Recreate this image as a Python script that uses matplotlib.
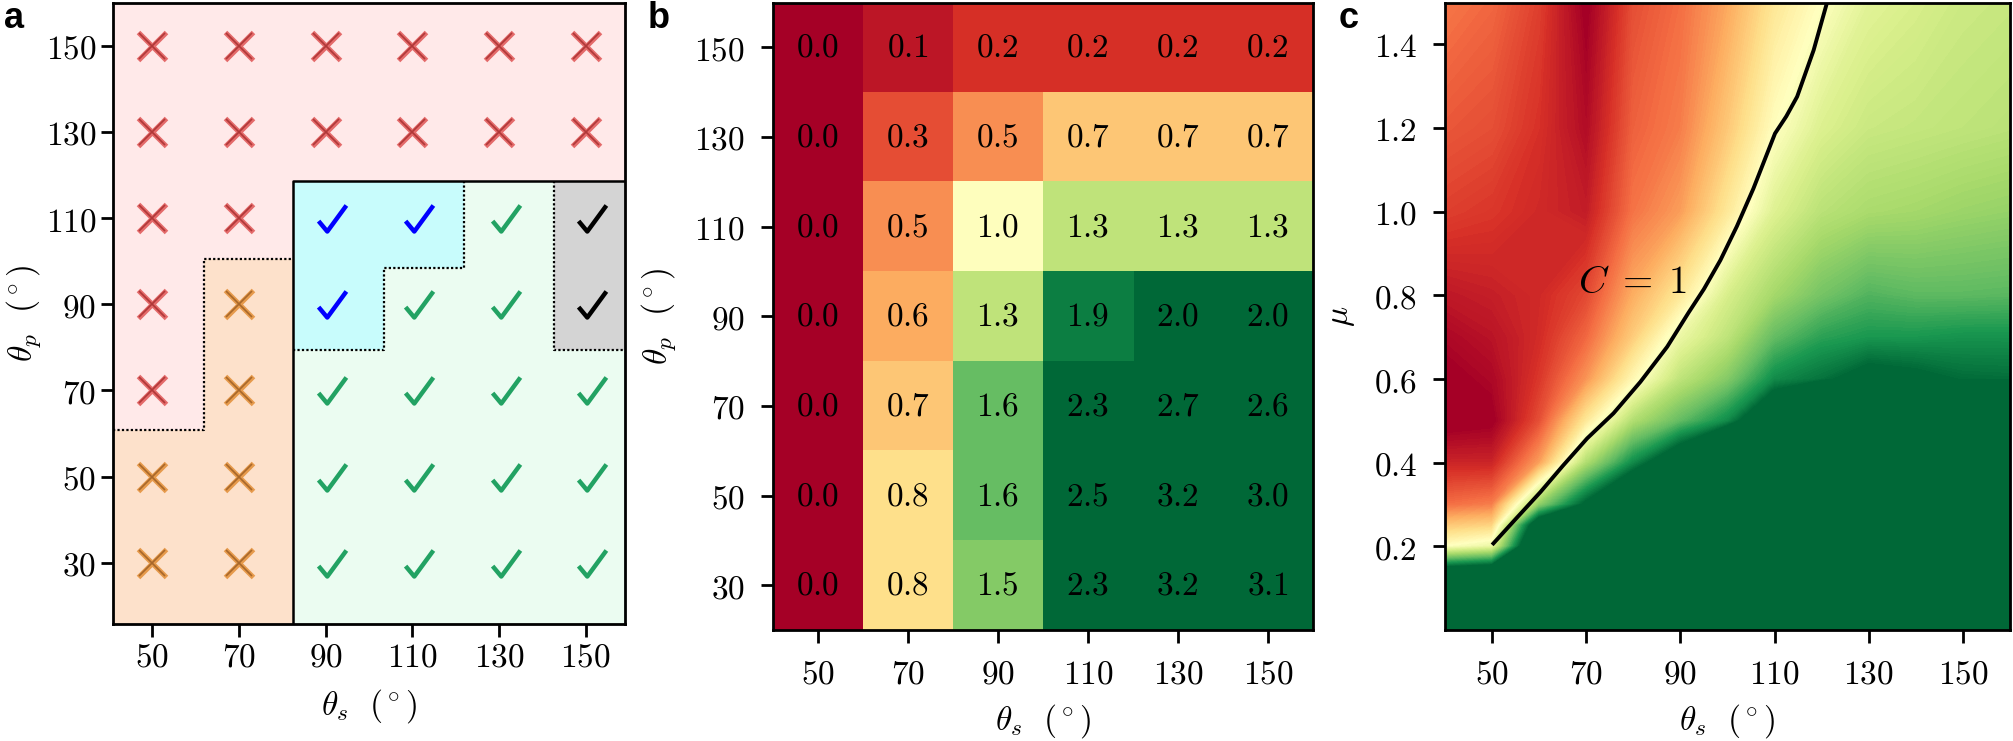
import matplotlib
matplotlib.use("Agg")
import matplotlib.pyplot as plt
import numpy as np
from matplotlib.path import Path
from matplotlib.markers import MarkerStyle

plt.rcParams["mathtext.fontset"] = "cm"
plt.rcParams["font.size"] = 24

# shared grid
theta_s = [50, 70, 90, 110, 130, 150]
theta_p = [150, 130, 110, 90, 70, 50, 30]

# panel a: outcome for each (theta_p row, theta_s column)
# R/O = failure (red / orange cross), B/G/K = success (blue / green / black tick)
outcome = [
    "RRRRRR",
    "RRRRRR",
    "RRBBGK",
    "ROBGGK",
    "ROGGGG",
    "OOGGGG",
    "OOGGGG",
]

# panel a: region boundaries (theta_s, theta_p)
xs_edges = [62, 82.6, 103.4, 122, 142.6]
yp_edges = [60.7, 79.4, 98.5, 100.4, 118.5]

# panel b: C value per cell, rows theta_p 150 -> 30
b_vals = [
    [0.0, 0.1, 0.2, 0.2, 0.2, 0.2],
    [0.0, 0.3, 0.5, 0.7, 0.7, 0.7],
    [0.0, 0.5, 1.0, 1.3, 1.3, 1.3],
    [0.0, 0.6, 1.3, 1.9, 2.0, 2.0],
    [0.0, 0.7, 1.6, 2.3, 2.7, 2.6],
    [0.0, 0.8, 1.6, 2.5, 3.2, 3.0],
    [0.0, 0.8, 1.5, 2.3, 3.2, 3.1],
]

# panel c: C over (theta_s, mu), one list per theta_s column, mu ascending
c_theta = [40, 50, 60, 70, 80, 90, 100, 110, 120, 130, 140, 150, 160]
c_mu = [0.0, 0.1, 0.15, 0.2, 0.25, 0.3, 0.4, 0.5, 0.6, 0.7, 0.8, 1.0, 1.2, 1.5]
c_cols = [
    [3.0, 3.0, 2.0, 1.0, 0.7, 0.4, 0.15, -0.05, -0.02, 0.03, 0.1, 0.25, 0.33, 0.43],
    [3.0, 3.0, 2.1, 1.1, 0.75, 0.45, 0.15, -0.02, 0.03, 0.08, 0.13, 0.22, 0.3, 0.38],
    [3.0, 3.0, 3.0, 2.6, 2.3, 1.45, 0.55, 0.3, 0.22, 0.18, 0.17, 0.17, 0.2, 0.25],
    [3.0, 3.0, 3.0, 3.0, 2.6, 2.05, 1.35, 0.85, 0.52, 0.38, 0.28, 0.12, 0.05, -0.02],
    [3.0, 3.0, 3.0, 3.0, 3.0, 2.6, 1.85, 1.35, 0.95, 0.72, 0.6, 0.42, 0.36, 0.3],
    [3.0, 3.0, 3.0, 3.0, 3.0, 3.0, 2.3, 1.6, 1.3, 1.1, 0.85, 0.55, 0.45, 0.4],
    [3.0, 3.0, 3.0, 3.0, 3.0, 3.0, 3.0, 1.85, 1.5, 1.3, 1.2, 0.85, 0.7, 0.58],
    [3.0, 3.0, 3.0, 3.0, 3.0, 3.0, 3.0, 2.4, 1.85, 1.6, 1.4, 1.17, 0.99, 0.84],
    [3.0, 3.0, 3.0, 3.0, 3.0, 3.0, 3.0, 3.0, 1.95, 1.75, 1.55, 1.32, 1.18, 1.0],
    [3.0, 3.0, 3.0, 3.0, 3.0, 3.0, 3.0, 3.0, 2.1, 1.8, 1.65, 1.38, 1.26, 1.15],
    [3.0, 3.0, 3.0, 3.0, 3.0, 3.0, 3.0, 3.0, 2.05, 1.8, 1.62, 1.4, 1.28, 1.2],
    [3.0, 3.0, 3.0, 3.0, 3.0, 3.0, 3.0, 3.0, 1.98, 1.82, 1.62, 1.43, 1.3, 1.25],
    [3.0, 3.0, 3.0, 3.0, 3.0, 3.0, 3.0, 3.0, 1.97, 1.82, 1.63, 1.45, 1.32, 1.27],
]

# panel c: C = 1 line
c1_theta = [50.3, 55.0, 60.3, 65.0, 70.2, 75.8, 81.5, 87.2, 91.7, 95.0, 98.5,
            102.0, 105.5, 110.1, 112.5, 114.8, 118.3, 121.0, 121.3]
c1_mu = [0.207, 0.265, 0.33, 0.392, 0.458, 0.518, 0.593, 0.677, 0.758, 0.815, 0.884,
         0.965, 1.055, 1.187, 1.228, 1.275, 1.386, 1.494, 1.51]

cmap = "RdYlGn"
deg_x = r"$\theta_s\ \ (^\circ)$"
deg_y = r"$\theta_p\ \ (^\circ)$"


def style(ax, pad):
    for s in ax.spines.values():
        s.set_linewidth(2)
    ax.tick_params(length=9, width=2, pad=pad)


fig = plt.figure(figsize=(20.13, 7.41), dpi=100)
ax_a = fig.add_axes([0.0561, 0.1579, 0.2543, 0.8387])
ax_b = fig.add_axes([0.3839, 0.1498, 0.2683, 0.8468])
ax_c = fig.add_axes([0.7178, 0.1498, 0.2807, 0.8468])

# ---------------- panel a ----------------
L, R, B, T = 41, 159, 15.8, 160
x1, x2, x3, x4, x5 = xs_edges
y1, y2, y3, y4, y5 = yp_edges
ax_a.set_facecolor("#ffe9e9")
ax_a.fill([L, x2, x2, x1, x1, L], [B, B, y4, y4, y1, y1], color="#fde1cb", lw=0)
ax_a.fill([x2, R, R, x2], [B, B, y5, y5], color="#ebfcf1", lw=0)
ax_a.fill([x2, x3, x3, x4, x4, x2], [y2, y2, y3, y3, y5, y5], color="#c8fcfc", lw=0)
ax_a.fill([x5, R, R, x5], [y2, y2, y5, y5], color="#d4d4d4", lw=0)
dots = dict(color="black", lw=1.6, dashes=(1, 1))
ax_a.plot([L, x1, x1, x2], [y1, y1, y4, y4], **dots)
ax_a.plot([x2, x3, x3, x4, x4], [y2, y2, y3, y3, y5], **dots)
ax_a.plot([x5, x5, R], [y5, y2, y2], **dots)
ax_a.plot([x2, x2, R], [B, y5, y5], color="black", lw=1.8)

check = MarkerStyle(Path([(-40, -7.5), (-15, -37.5), (40, 37.5)],
                         [Path.MOVETO, Path.LINETO, Path.LINETO]),
                    capstyle="butt", joinstyle="miter")
cross_col = {"R": ("#e46a6a", "#b03838"), "O": ("#e69a4c", "#a8672a")}
tick_col = {"B": "#0000ff", "G": "#22a263", "K": "black"}
for i, tp in enumerate(theta_p):
    for j, ts in enumerate(theta_s):
        k = outcome[i][j]
        if k in cross_col:
            light, dark = cross_col[k]
            ax_a.plot(ts, tp, marker="x", ms=20, mew=3.6, color=light, ls="none")
            ax_a.plot(ts, tp, marker="x", ms=19, mew=1.2, color=dark, ls="none")
        else:
            ax_a.plot(ts + 1.5, tp, marker=check, ms=20, mew=3.2, mfc="none",
                      mec=tick_col[k], ls="none")

ax_a.set_xlim(L, R)
ax_a.set_ylim(B, T)
ax_a.set_xticks(theta_s, [f"${t}$" for t in theta_s])
ax_a.set_yticks(theta_p, [f"${t}$" for t in theta_p])
ax_a.set_xlabel(deg_x, labelpad=10)
ax_a.set_ylabel(deg_y, labelpad=2)
style(ax_a, 3)

# ---------------- panel b ----------------
ax_b.imshow(b_vals, extent=(40, 160, 20, 160), origin="upper", cmap=cmap,
            vmin=0, vmax=2, aspect="auto", interpolation="nearest")
for i, tp in enumerate(theta_p):
    for j, ts in enumerate(theta_s):
        ax_b.text(ts, tp, f"${b_vals[i][j]:.1f}$", ha="center", va="center",
                  fontsize=24)
ax_b.set_xlim(40, 160)
ax_b.set_ylim(20, 160)
ax_b.set_xticks(theta_s, [f"${t}$" for t in theta_s])
ax_b.set_yticks(theta_p, [f"${t}$" for t in theta_p])
ax_b.set_xlabel(deg_x, labelpad=8)
ax_b.set_ylabel(deg_y, labelpad=12)
style(ax_b, 11)

# ---------------- panel c ----------------
Z = np.array(c_cols).T
ax_c.contourf(c_theta, c_mu, Z, levels=np.linspace(0, 2, 161), cmap=cmap,
              extend="both")
ax_c.plot(c1_theta, c1_mu, color="black", lw=2.8, solid_joinstyle="round")
ax_c.text(68.2, 0.805, r"$C\;=\;1$", fontsize=28, ha="left", va="baseline")
ax_c.set_xlim(40, 160)
ax_c.set_ylim(0, 1.5)
ax_c.set_xticks(theta_s, [f"${t}$" for t in theta_s])
mu_ticks = [0.2, 0.4, 0.6, 0.8, 1.0, 1.2, 1.4]
ax_c.set_yticks(mu_ticks, [f"${t:.1f}$" for t in mu_ticks])
ax_c.set_xlabel(deg_x, labelpad=8)
ax_c.set_ylabel(r"$\mu$", labelpad=12)
style(ax_c, 11)

for x, lab in [(0.002, "a"), (0.3215, "b"), (0.6650, "c")]:
    fig.text(x, 0.999, lab, fontsize=26, fontweight="bold",
             family="Liberation Sans", ha="left", va="top")

fig.savefig("out.png", dpi=100)
